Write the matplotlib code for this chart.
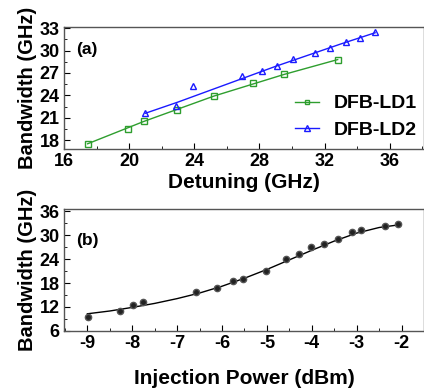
import matplotlib
matplotlib.use('Agg')
import matplotlib.pyplot as plt
from matplotlib.ticker import MultipleLocator

plt.rcParams['font.family'] = ['Liberation Sans', 'DejaVu Sans']
plt.rcParams['font.weight'] = 'bold'
plt.rcParams['axes.labelweight'] = 'bold'
plt.rcParams['axes.unicode_minus'] = False

# panel (a): detuning vs bandwidth
ld1_detuning = [17.45, 19.9, 20.9, 22.95, 25.2, 27.6, 29.5, 32.8]
ld1_bandwidth = [17.5, 19.5, 20.55, 22.0, 23.9, 25.6, 26.9, 28.8]
ld2_detuning = [21.0, 22.9, 23.9, 26.9, 28.15, 29.1, 30.05, 31.4, 32.3, 33.3, 34.15, 35.1]
ld2_bandwidth = [21.6, 22.55, 25.2, 26.6, 27.2, 27.9, 28.9, 29.7, 30.4, 31.1, 31.7, 32.5]
ld1_fit_x = [17.45, 20.9, 25.2, 29.5, 32.8]
ld1_fit_y = [17.5, 20.5, 23.9, 26.8, 28.8]
ld2_fit_x = [21.0, 23.0, 25.0, 27.0, 29.0, 31.0, 33.0, 35.1]
ld2_fit_y = [21.6, 23.1, 24.7, 26.3, 27.9, 29.4, 30.9, 32.4]

# panel (b): injection power vs bandwidth
power = [-8.98, -8.28, -7.98, -7.75, -6.58, -6.12, -5.76, -5.54, -5.03, -4.58,
         -4.28, -4.02, -3.73, -3.41, -3.10, -2.91, -2.38, -2.09]
power_bandwidth = [9.6, 11.0, 12.5, 13.3, 15.7, 16.8, 18.5, 19.1, 21.0, 24.1,
                   25.2, 27.1, 27.7, 29.0, 30.75, 31.25, 32.25, 32.7]
power_fit_x = [-9.0, -8.5, -8.0, -7.5, -7.0, -6.5, -6.0, -5.5, -5.0, -4.5,
               -4.0, -3.5, -3.0, -2.5, -2.1]
power_fit_y = [10.3, 11.0, 11.9, 12.9, 14.1, 15.5, 17.2, 19.2, 21.4, 23.8,
               26.2, 28.5, 30.5, 31.9, 32.5]

green = '#2e9e2e'
blue = '#1a1aff'

fig = plt.figure(figsize=(4.24, 3.88), dpi=100)
ax1 = fig.add_axes([0.151, 0.616, 0.849, 0.314])
ax2 = fig.add_axes([0.151, 0.147, 0.849, 0.314])

for ax in (ax1, ax2):
    ax.tick_params(direction='in', which='both', labelsize=13, top=False, right=False, pad=3)
    ax.tick_params(which='major', length=4)
    ax.tick_params(which='minor', length=2)
    for s in ax.spines.values():
        s.set_color('#555555')
        s.set_linewidth(1.0)

# (a)
ax1.plot(ld1_fit_x, ld1_fit_y, '-', color=green, lw=1.0)
ax1.plot(ld2_fit_x, ld2_fit_y, '-', color=blue, lw=1.0)
ax1.plot(ld1_detuning, ld1_bandwidth, 's', color=green, mfc='none', mew=1.0, ms=4.5)
ax1.plot(ld2_detuning, ld2_bandwidth, '^', color=blue, mfc='none', mew=1.0, ms=5)
h1, = ax1.plot([], [], '-s', color=green, mfc='none', ms=3.5, lw=1.0)
h2, = ax1.plot([], [], '-^', color=blue, mfc='none', ms=4, lw=1.0)
ax1.legend([h1, h2], ['DFB-LD1', 'DFB-LD2'], loc='lower right', frameon=False,
           prop={'family': 'Liberation Sans', 'size': 14, 'weight': 'bold'},
           handlelength=1.2, handletextpad=0.8, labelspacing=0.45,
           bbox_to_anchor=(1.03, -0.06))
ax1.set_xlim(16, 38.1)
ax1.set_ylim(16.8, 33.15)
ax1.xaxis.set_major_locator(MultipleLocator(4))
ax1.xaxis.set_minor_locator(MultipleLocator(2))
ax1.yaxis.set_major_locator(MultipleLocator(3))
ax1.yaxis.set_minor_locator(MultipleLocator(1.5))
ax1.set_xlabel('Detuning (GHz)', fontsize=15, labelpad=2)
ax1.set_ylabel('Bandwidth (GHz)', fontsize=14.5, labelpad=2)
ax1.text(0.035, 0.82, '(a)', transform=ax1.transAxes, fontsize=12.5, va='center')

# (b)
ax2.plot(power_fit_x, power_fit_y, '-', color='black', lw=1.0)
ax2.plot(power, power_bandwidth, 'o', color='#222222', mec='#555555', ms=4.5)
ax2.set_xlim(-9.52, -1.5)
ax2.set_ylim(6, 36.5)
ax2.xaxis.set_major_locator(MultipleLocator(1))
ax2.xaxis.set_minor_locator(MultipleLocator(0.5))
ax2.yaxis.set_major_locator(MultipleLocator(6))
ax2.yaxis.set_minor_locator(MultipleLocator(3))
ax2.set_xlabel('Injection Power (dBm)', fontsize=15, labelpad=12)
ax2.set_ylabel('Bandwidth (GHz)', fontsize=14.5, labelpad=2)
ax2.text(0.035, 0.74, '(b)', transform=ax2.transAxes, fontsize=12.5, va='center')

fig.savefig('out.png', dpi=100)
